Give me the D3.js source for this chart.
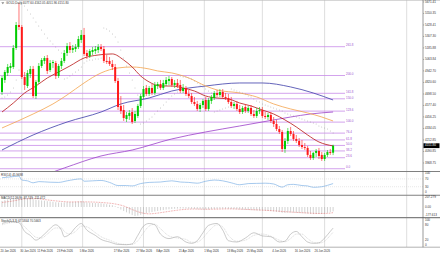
<!DOCTYPE html>
<html>
<head>
<meta charset="utf-8">
<script src="https://cdn.jsdelivr.net/npm/d3@7"></script>
<style>
html, body { margin: 0; padding: 0; background: #fff; }
svg { display: block; font-family: "Liberation Sans", Arial, sans-serif; }
</style>
</head>
<body>
<svg id="chart" width="440" height="254"></svg>
<script>
// daily candles, [open, high, low, close]
const ohlc = [
  [4720,4889,4688,4868],[4847,4952,4815,4931],[4921,5016,4889,4984],[4974,5026,4921,4995],
  [4984,5217,4963,5185],[5185,5460,5164,5428],[5428,5661,5375,5407],[5407,5428,4857,4878],
  [4878,4931,4741,4794],[4783,4952,4762,4921],[4910,4995,4868,4963],[4963,4995,4656,4677],
  [4677,4847,4646,4826],[4826,5026,4804,4995],[4995,5079,4974,5058],[5048,5100,5016,5079],
  [5079,5111,4910,4942],[4952,5058,4931,5026],[5026,5058,4974,5037],[5026,5048,4857,4889],
  [4889,5016,4868,4995],[4995,5079,4963,5048],[5048,5164,5026,5132],[5132,5238,5100,5206],
  [5206,5248,5132,5164],[5164,5217,5132,5185],[5174,5227,5143,5196],[5196,5312,5174,5280],
  [5270,5375,5238,5323],[5323,5397,5100,5122],[5132,5164,5069,5100],[5100,5174,5079,5153],
  [5143,5196,5111,5164],[5153,5206,5122,5174],[5164,5227,5132,5196],[5196,5227,5153,5174],
  [5174,5206,5026,5048],[5048,5111,5016,5037],[5048,5090,4995,5016],[5016,5058,4952,4984],
  [4984,5016,4815,4836],[4836,4868,4529,4561],[4572,4677,4487,4519],[4529,4582,4413,4445],
  [4434,4508,4402,4476],[4466,4529,4424,4498],[4508,4550,4381,4402],[4413,4519,4392,4487],
  [4466,4593,4445,4572],[4572,4699,4550,4677],[4667,4783,4646,4751],[4762,4794,4677,4699],
  [4699,4783,4677,4762],[4762,4804,4688,4709],[4709,4826,4688,4794],[4783,4826,4751,4804],
  [4804,4847,4741,4762],[4762,4847,4741,4815],[4804,4878,4783,4847],[4836,4889,4794,4857],
  [4857,4878,4773,4794],[4794,4847,4762,4815],[4815,4857,4762,4783],[4794,4847,4709,4730],
  [4730,4804,4709,4762],[4762,4783,4677,4699],[4699,4741,4656,4677],[4677,4709,4593,4614],
  [4614,4667,4572,4593],[4593,4625,4519,4540],[4540,4603,4508,4582],[4582,4646,4551,4625],
  [4635,4667,4519,4540],[4540,4656,4519,4635],[4625,4688,4593,4667],[4656,4730,4635,4709],
  [4709,4741,4667,4688],[4688,4751,4667,4720],[4720,4751,4646,4667],[4667,4709,4635,4656],
  [4656,4699,4593,4614],[4614,4667,4551,4572],[4572,4614,4540,4593],[4593,4625,4519,4540],
  [4540,4582,4487,4508],[4508,4572,4487,4551],[4561,4593,4498,4519],[4519,4572,4498,4551],
  [4551,4582,4466,4487],[4487,4529,4445,4466],[4466,4551,4445,4519],[4519,4561,4487,4529],
  [4529,4561,4445,4466],[4466,4508,4434,4455],[4455,4498,4424,4477],[4477,4508,4392,4413],
  [4413,4455,4350,4381],[4381,4424,4307,4328],[4328,4360,4276,4297],[4297,4318,4085,4117],
  [4117,4233,4075,4202],[4202,4339,4170,4307],[4307,4350,4254,4276],[4276,4307,4202,4223],
  [4223,4265,4180,4202],[4202,4233,4138,4159],[4159,4212,4117,4138],[4138,4180,4106,4128],
  [4128,4149,4032,4054],[4054,4096,4001,4022],[4022,4085,4001,4075],[4075,4117,4032,4096],
  [4096,4128,4011,4043],[4054,4085,3990,4011],[4011,4075,3990,4054],[4054,4106,4032,4085],
  [4085,4117,4054,4075],[4077.60,4162.05,4051.96,4151.80]
];

const sar = [
  4656,4667,4688,4720,4762,4847,4952,5661,5629,5587,
  5545,5502,5460,5418,5375,5333,5291,5259,5227,5196,
  5164,5132,4857,4868,4889,4910,4931,4952,4984,5026,
  5048,5058,5058,5069,5069,5079,5397,5386,5365,5333,
  5301,5248,5164,5079,4995,4921,4847,4762,4688,4381,
  4392,4413,4434,4455,4487,4519,4551,4582,4614,4646,
  4677,4699,4720,4889,4878,4878,4868,4857,4836,4815,
  4794,4773,4751,4730,4709,4508,4519,4529,4540,4551,
  4561,4751,4741,4730,4720,4709,4699,4677,4667,4646,
  4625,4614,4593,4582,4572,4561,4551,4540,4529,4519,
  4498,4487,4477,4466,4455,4445,4434,4424,4413,4402,
  4392,4381,4360,4350,4339,4328,4307,4286
];

// moving averages read at [bar, price]
const maRed = [[0,4508],[4,4603],[8,4709],[12,4783],[16,4868],[20,4931],[24,4995],[29,5079],[34,5111],[39,5122],[43,5058],[46,4984],[49,4889],[52,4826],[56,4783],[60,4783],[64,4762],[68,4730],[72,4677],[76,4656],[80,4646],[84,4603],[88,4572],[92,4529],[96,4487],[100,4424],[104,4350],[108,4265],[112,4191],[117,4149]];
const maOrange = [[0,4339],[11,4487],[18,4593],[23,4688],[29,4815],[35,4921],[41,4974],[46,4984],[52,4963],[55,4942],[60,4921],[66,4868],[72,4783],[76,4741],[84,4709],[90,4667],[96,4593],[102,4540],[108,4498],[113,4455],[117,4413]];
const maBlue = [[0,4106],[11,4265],[23,4402],[35,4508],[42,4593],[52,4656],[60,4730],[72,4783],[84,4815],[92,4815],[102,4773],[110,4709],[117,4635]];
const maPurple = [[0,3705],[11,3800],[22,3916],[35,4043],[46,4106],[60,4223],[72,4297],[84,4360],[96,4424],[102,4455],[109,4487],[117,4508]];

const fibLevels = [0, 23.6, 38.2, 50, 61.8, 76.4, 100, 123.6, 150, 161.8, 200, 261.8];
const fibRange = [3908, 4401];

const priceTicks = ["5671.41","5550.35","5428.41","5307.30","5185.88","5063.84","4942.70","4820.60","4698.50","4577.40","4456.25","4334.05","4212.85","4090.85","3968.75"];

const rsi = [[0,76],[3,80],[6,84],[7,64],[9,60],[11,50],[13,56],[17,53],[20,52],[23,60],[28,70],[29,58],[32,60],[35,62],[38,52],[41,36],[44,36],[46,34],[49,46],[52,52],[56,54],[60,60],[63,54],[66,52],[69,48],[72,58],[75,64],[78,60],[81,50],[84,40],[87,46],[90,47],[93,48],[96,44],[99,28],[101,40],[103,42],[106,36],[108,34],[110,27],[113,30],[115,37],[117,45.97]];

const macd = [
  120,135,150,160,175,195,207.279,200,185,175,
  168,150,140,135,130,126,115,110,105,95,
  90,88,90,95,98,100,102,108,115,100,
  90,85,80,78,76,74,65,55,45,35,
  15,-20,-50,-80,-105,-130,-160,-177.613,-170,-155,
  -140,-125,-110,-100,-88,-78,-68,-60,-52,-45,
  -40,-35,-32,-30,-30,-31,-33,-36,-40,-45,
  -48,-50,-50,-48,-44,-40,-36,-33,-32,-33,
  -35,-38,-42,-46,-50,-54,-57,-60,-63,-66,
  -68,-70,-72,-75,-78,-82,-88,-94,-100,-115,
  -118,-112,-110,-112,-116,-120,-124,-126,-130,-136,
  -140,-138,-136,-135,-128,-115,-100,-87.749
];
const macdSignal = [[0,90],[4,120],[8,160],[12,165],[16,140],[20,115],[24,100],[28,102],[32,98],[36,85],[40,60],[43,20],[46,-50],[49,-110],[52,-135],[55,-120],[58,-95],[61,-70],[64,-50],[68,-40],[72,-44],[76,-42],[80,-37],[84,-42],[88,-52],[92,-62],[96,-75],[100,-92],[104,-106],[108,-118],[112,-128],[115,-125],[117,-111.472]];

const stochMain = [[0,85],[3,92],[6,88],[8,55],[10,40],[12,22],[14,35],[16,55],[19,80],[21,60],[22,35],[24,45],[26,70],[28,85],[30,60],[33,40],[35,25],[38,15],[41,6],[44,5],[46,8],[48,40],[50,75],[52,85],[54,80],[56,45],[59,28],[62,35],[65,15],[67,10],[69,20],[71,50],[73,78],[76,85],[78,60],[80,20],[83,15],[86,30],[89,50],[92,38],[95,35],[98,15],[100,18],[102,45],[104,55],[106,35],[108,15],[110,10],[112,12],[114,30],[116,55],[117,67.58]];
const stochSignal = [[0,80],[3,88],[6,90],[8,72],[10,52],[12,33],[14,30],[16,45],[19,68],[21,68],[22,55],[24,45],[26,55],[28,75],[30,72],[33,50],[35,35],[38,22],[41,10],[44,6],[46,6],[48,20],[50,50],[52,75],[54,82],[56,65],[59,38],[62,30],[65,25],[67,14],[69,15],[71,30],[73,55],[76,80],[78,72],[80,40],[83,18],[86,22],[89,40],[92,45],[95,37],[98,22],[100,16],[102,28],[104,45],[106,45],[108,28],[110,14],[112,11],[114,18],[116,40],[117,52]];

const dateLabels = ["20 Jan 2026","30 Jan 2026","11 Feb 2026","23 Feb 2026","5 Mar 2026","17 Mar 2026","27 Mar 2026","8 Apr 2026","21 Apr 2026","1 May 2026","13 May 2026","25 May 2026","4 Jun 2026","16 Jun 2026","26 Jun 2026"];
const dateBars = [0, 7, 13, 20, 28, 40, 48, 55, 63, 72, 80, 87, 96, 104, 111];
const gridBars = [7, 28.5, 50, 71.5, 92, 114, 143];

const header = "GOLD,Daily  4077.60 4162.05 4051.96 4151.80";

const axisX = 423;
const panels = {
  main: [0.5, 171],
  rsi: [172, 194.5],
  macd: [196, 216.5],
  stoch: [218.5, 246.5]
};

const x = d3.scaleLinear().domain([0, ohlc.length - 1]).range([2, 333.1]);
const y = d3.scaleLinear().domain([3884, 5687.3]).range([panels.main[1], panels.main[0]]);
const yRsi = d3.scaleLinear().domain([0, 100]).range([192.6, 173]);
const yMacd = d3.scaleLinear().domain([-177.613, 207.279]).range([216, 196.5]);
const yStoch = d3.scaleLinear().domain([0, 100]).range([246, 219.5]);

const green = "#00cc00", red = "#ff1a1a", txt = "#333";
const svg = d3.select("#chart");

const defs = svg.append("defs");
Object.entries(panels).forEach(([k, p]) => {
  defs.append("clipPath").attr("id", "clip-" + k)
    .append("rect").attr("x", 0).attr("y", p[0]).attr("width", axisX).attr("height", p[1] - p[0]);
});

// vertical grid
svg.append("g").selectAll("line")
  .data(gridBars)
  .enter().append("line")
  .attr("x1", d => x(d)).attr("x2", d => x(d))
  .attr("y1", 0).attr("y2", 247)
  .attr("stroke", "#c8c8c8")
  .attr("stroke-width", 0.6);

// fibonacci levels
const fibPrice = l => fibRange[0] + (fibRange[1] - fibRange[0]) * l / 100;
const gFib = svg.append("g");
gFib.selectAll("line")
  .data(fibLevels)
  .enter().append("line")
  .attr("x1", 0).attr("x2", 345)
  .attr("y1", d => y(fibPrice(d))).attr("y2", d => y(fibPrice(d)))
  .attr("stroke", "#c88ce8")
  .attr("stroke-width", 0.8);
gFib.selectAll("text")
  .data(fibLevels)
  .enter().append("text")
  .attr("x", 346)
  .attr("y", d => y(fibPrice(d)) - 0.3)
  .attr("font-size", 3)
  .attr("fill", "#a050d0")
  .text(d => d.toFixed(1));

// moving averages
const gMain = svg.append("g").attr("clip-path", "url(#clip-main)");
const maLine = d3.line().x(d => x(d[0])).y(d => y(d[1])).curve(d3.curveMonotoneX);
[[maPurple, "#9b3fc9"], [maBlue, "#3c3ca8"], [maOrange, "#f4a34c"], [maRed, "#b81414"]].forEach(([data, color]) => {
  gMain.append("path")
    .attr("d", maLine(data))
    .attr("fill", "none")
    .attr("stroke", color)
    .attr("stroke-width", 0.8);
});

// parabolic sar
gMain.selectAll("circle.sar")
  .data(sar)
  .enter().append("circle")
  .attr("class", "sar")
  .attr("cx", (d, i) => x(i))
  .attr("cy", d => y(d))
  .attr("r", 0.45)
  .attr("fill", "#9a9a9a");

// candles
const colorOf = d => d[3] >= d[0] ? green : red;
gMain.selectAll("line.wick")
  .data(ohlc)
  .enter().append("line")
  .attr("class", "wick")
  .attr("x1", (d, i) => x(i)).attr("x2", (d, i) => x(i))
  .attr("y1", d => y(d[1])).attr("y2", d => y(d[2]))
  .attr("stroke", colorOf)
  .attr("stroke-width", 0.6);
gMain.selectAll("rect.body")
  .data(ohlc)
  .enter().append("rect")
  .attr("class", "body")
  .attr("x", (d, i) => x(i) - 1)
  .attr("width", 2)
  .attr("y", d => y(Math.max(d[0], d[3])))
  .attr("height", d => Math.max(0.6, Math.abs(y(d[0]) - y(d[3]))))
  .attr("fill", colorOf);

// rsi
const gRsi = svg.append("g").attr("clip-path", "url(#clip-rsi)");
[70, 30].forEach(v => {
  gRsi.append("line")
    .attr("x1", 0).attr("x2", axisX)
    .attr("y1", yRsi(v)).attr("y2", yRsi(v))
    .attr("stroke", "#d0d0d0").attr("stroke-width", 0.5)
    .attr("stroke-dasharray", "1,1");
});
gRsi.append("path")
  .attr("d", d3.line().x(d => x(d[0])).y(d => yRsi(d[1])).curve(d3.curveMonotoneX)(rsi))
  .attr("fill", "none")
  .attr("stroke", "#7fb2e5")
  .attr("stroke-width", 0.7);

// macd
const gMacd = svg.append("g").attr("clip-path", "url(#clip-macd)");
gMacd.selectAll("line.hist")
  .data(macd)
  .enter().append("line")
  .attr("x1", (d, i) => x(i)).attr("x2", (d, i) => x(i))
  .attr("y1", yMacd(0)).attr("y2", d => yMacd(d))
  .attr("stroke", "#b4b4b4")
  .attr("stroke-width", 0.6);
gMacd.append("path")
  .attr("d", d3.line().x(d => x(d[0])).y(d => yMacd(d[1])).curve(d3.curveMonotoneX)(macdSignal))
  .attr("fill", "none")
  .attr("stroke", "#e05a5a")
  .attr("stroke-width", 0.6)
  .attr("stroke-dasharray", "0.8,0.8");

// stochastic
const gSto = svg.append("g").attr("clip-path", "url(#clip-stoch)");
const stoLine = d3.line().x(d => x(d[0])).y(d => yStoch(d[1])).curve(d3.curveMonotoneX);
gSto.append("path")
  .attr("d", stoLine(stochSignal))
  .attr("fill", "none")
  .attr("stroke", "#c4c4c4")
  .attr("stroke-width", 0.6)
  .attr("stroke-dasharray", "1,0.8");
gSto.append("path")
  .attr("d", stoLine(stochMain))
  .attr("fill", "none")
  .attr("stroke", "#a8a8a8")
  .attr("stroke-width", 0.6);

// panel borders
svg.append("g").selectAll("line")
  .data([0.5, 171.5, 195.3, 217.6, 247.2])
  .enter().append("line")
  .attr("x1", 0).attr("x2", 440)
  .attr("y1", d => d).attr("y2", d => d)
  .attr("stroke", (d, i) => i === 0 ? "#bbb" : "#808080")
  .attr("stroke-width", (d, i) => (i === 0 || i === 4) ? 0.6 : 1.1);
svg.append("line")
  .attr("x1", axisX).attr("x2", axisX)
  .attr("y1", 0).attr("y2", 247.2)
  .attr("stroke", "#555").attr("stroke-width", 0.6);

// price axis
const axisText = (sel, data, yfn) => sel.selectAll("text.tick").data(data).enter().append("text")
  .attr("x", axisX + 2)
  .attr("y", yfn)
  .attr("dominant-baseline", "middle")
  .attr("font-size", 3)
  .attr("fill", txt)
  .text(d => d.label);

const gAxis = svg.append("g");
axisText(gAxis.append("g"), priceTicks.map(t => ({label: t, v: +t})), d => y(d.v));
gAxis.append("g").selectAll("line")
  .data(priceTicks)
  .enter().append("line")
  .attr("x1", axisX).attr("x2", axisX + 1.2)
  .attr("y1", d => y(+d)).attr("y2", d => y(+d))
  .attr("stroke", "#555").attr("stroke-width", 0.4);

const last = ohlc[ohlc.length - 1];
gAxis.append("rect")
  .attr("x", axisX + 0.5).attr("y", y(last[3]) - 2.4)
  .attr("width", 16).attr("height", 4.8)
  .attr("fill", "#000");
gAxis.append("text")
  .attr("x", axisX + 2).attr("y", y(last[3]))
  .attr("dominant-baseline", "middle")
  .attr("font-size", 3)
  .attr("fill", "#fff")
  .text(last[3].toFixed(2));

axisText(gAxis.append("g"), [100, 70, 30, 0].map(v => ({label: String(v), v})),
  d => Math.min(Math.max(yRsi(d.v), 173.5), 193));
axisText(gAxis.append("g"), [207.279, 0, -177.613].map(v => ({label: v === 0 ? "0.00" : String(v), v})),
  d => Math.min(Math.max(yMacd(d.v), 197.5), 215.2));
axisText(gAxis.append("g"), [100, 80, 20, 0].map(v => ({label: String(v), v})),
  d => Math.min(Math.max(yStoch(d.v), 220), 245.5));

// date axis
svg.append("g").selectAll("text")
  .data(dateLabels)
  .enter().append("text")
  .attr("x", (d, i) => x(dateBars[i]) - 1.5)
  .attr("y", 252.3)
  .attr("font-size", 2.8)
  .attr("fill", txt)
  .text(d => d);

// panel titles
svg.append("path")
  .attr("d", "M1.3,2.2L4.3,2.2L2.8,4.2Z")
  .attr("fill", "#888");
const titles = [
  [header, 4.4],
  ["RSI(14) 45.9698", 175.6],
  ["MACD(12,26,9) -87.749 -111.472", 199.2],
  ["Stoch(5,3,3) 67.5844 70.5663", 221.6]
];
svg.append("g").selectAll("text")
  .data(titles)
  .enter().append("text")
  .attr("x", (d, i) => i === 0 ? 6 : 1)
  .attr("y", d => d[1])
  .attr("font-size", 3)
  .attr("fill", txt)
  .text(d => d[0]);
</script>
</body>
</html>
